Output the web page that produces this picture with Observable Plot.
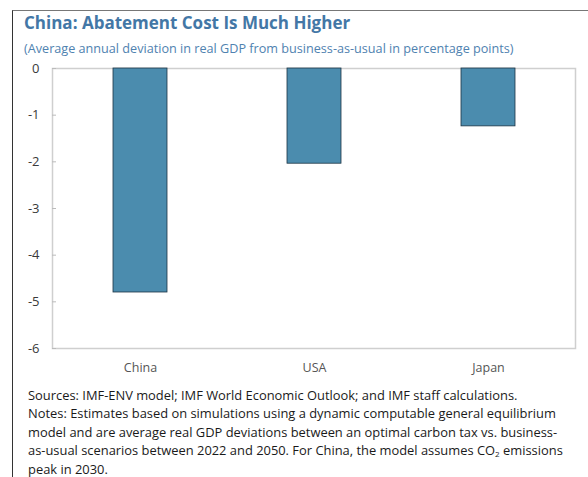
<!DOCTYPE html>
<html>
<head>
<meta charset="utf-8">
<script src="https://cdn.jsdelivr.net/npm/d3@7"></script>
<script src="https://cdn.jsdelivr.net/npm/@observablehq/plot@0.6"></script>
<style>
  html, body { margin: 0; padding: 0; background: #fff; }
  body { width: 588px; height: 477px; overflow: hidden; position: relative; font-family: "Open Sans", "Noto Sans", sans-serif; }
  #box { position: absolute; left: 12px; top: 10px; width: 580px; height: 480px; border-left: 1.5px solid #333; border-top: 1px solid #777; }
  #title { position: absolute; left: 24px; top: 11px; font-size: 17px; font-weight: 700; color: #4377a6; white-space: nowrap; }
  #subtitle { position: absolute; left: 24px; top: 39px; font-size: 12.65px; color: #4f82b0; white-space: nowrap; }
  #chart { position: absolute; left: 0; top: 58px; }
  #foot { position: absolute; left: 28px; top: 386px; font-size: 12.9px; line-height: 18.4px; color: #1a1a1a; white-space: nowrap; }
  #foot sub { font-size: 8px; vertical-align: -2px; line-height: 0; }
</style>
</head>
<body>
<div id="box"></div>
<div id="title">China: Abatement Cost Is Much Higher</div>
<div id="subtitle">(Average annual deviation in real GDP from business-as-usual in percentage points)</div>
<div id="chart"></div>
<div id="foot">Sources: IMF-ENV model; IMF World Economic Outlook; and IMF staff calculations.<br>Notes: Estimates based on simulations using a dynamic computable general equilibrium<br>model and are average real GDP deviations between an optimal carbon tax vs. business-<br>as-usual scenarios between 2022 and 2050. For China, the model assumes CO<sub>2</sub> emissions<br>peak in 2030.</div>
<script>
const countries = ["China", "USA", "Japan"];
const values = [-4.8, -2.04, -1.24];
const yTicks = [0, -1, -2, -3, -4, -5, -6];

const data = countries.map((c, i) => ({country: c, value: values[i]}));

const chart = Plot.plot({
  width: 588,
  height: 320,
  marginLeft: 52,
  marginRight: 13,
  marginTop: 10,
  marginBottom: 30,
  style: {fontFamily: "'Open Sans', 'Noto Sans', sans-serif", background: "transparent"},
  x: {domain: countries, paddingInner: 0.69, paddingOuter: 0.345, label: null},
  y: {domain: [-6, 0], label: null},
  marks: [
    Plot.frame({stroke: "#cfcfcf", strokeWidth: 1.5}),
    Plot.barY(data, {x: "country", y: "value", fill: "#4b8cae", stroke: "#1c3444", strokeWidth: 0.8}),
    Plot.axisY({ticks: yTicks, tickSize: 0, tickPadding: 13, tickFormat: d => String(d).replace("−", "-"), fontSize: 13, color: "#3a3a3a", label: null}),
    Plot.axisY({ticks: yTicks, tickSize: -4, fill: "none", stroke: "#bbbbbb", label: null}),
    Plot.axisX({tickSize: 0, tickPadding: 15, fontSize: 12.5, color: "#555", label: null})
  ]
});
document.getElementById("chart").appendChild(chart);
</script>
</body>
</html>
